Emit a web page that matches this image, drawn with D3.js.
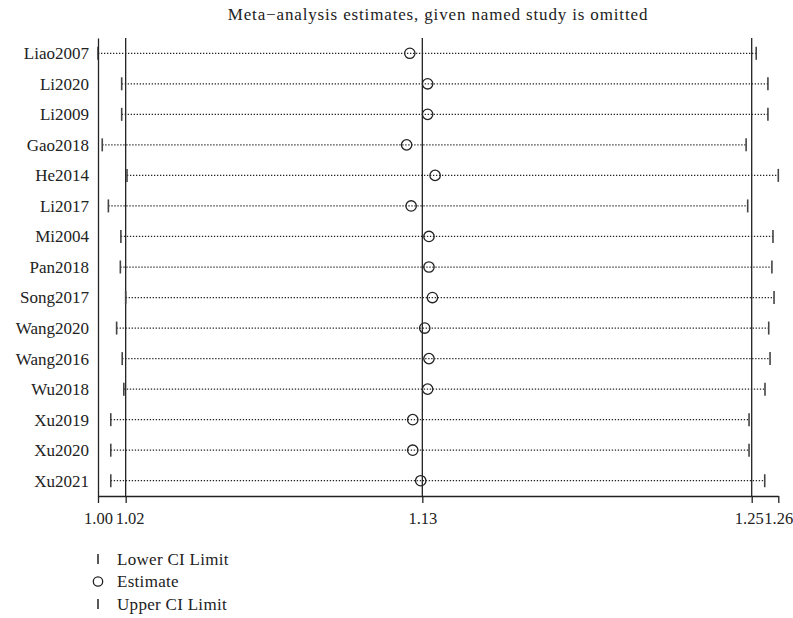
<!DOCTYPE html>
<html>
<head>
<meta charset="utf-8">
<script src="https://cdn.jsdelivr.net/npm/d3@7/dist/d3.min.js"></script>
<style>
  html, body { margin: 0; padding: 0; background: #fff; }
  svg { display: block; font-family: "Liberation Serif", "Times New Roman", serif; }
  .axis text { font-family: "Liberation Serif", "Times New Roman", serif; }
</style>
</head>
<body>
<svg id="chart" width="793" height="618"></svg>
<script>
// Leave-one-out sensitivity analysis: pooled estimate with each study omitted
const studies = ["Liao2007", "Li2020", "Li2009", "Gao2018", "He2014", "Li2017", "Mi2004",
  "Pan2018", "Song2017", "Wang2020", "Wang2016", "Wu2018", "Xu2019", "Xu2020", "Xu2021"];
const lowerCI  = [1.0048, 1.0137, 1.0137, 1.0064, 1.0157, 1.0087, 1.0134,
  1.0132, 1.0152, 1.0118, 1.0139, 1.0145, 1.0096, 1.0096, 1.0096];
const estimate = [1.1220, 1.1287, 1.1287, 1.1208, 1.1315, 1.1225, 1.1292,
  1.1292, 1.1305, 1.1276, 1.1292, 1.1287, 1.1231, 1.1231, 1.1261];
const upperCI  = [1.2522, 1.2566, 1.2566, 1.2484, 1.2605, 1.2490, 1.2585,
  1.2581, 1.2589, 1.2569, 1.2574, 1.2555, 1.2495, 1.2495, 1.2554];

// Overall pooled estimate and its confidence interval
const overall = { lower: 1.0152, estimate: 1.1267, upper: 1.2505 };

const legendLabels = ["Lower CI Limit", "Estimate", "Upper CI Limit"];
const titleText = "Meta\u2212analysis estimates, given named study is omitted";

const rows = studies.map((s, i) => ({ study: s, lo: lowerCI[i], est: estimate[i], hi: upperCI[i] }));

const svg = d3.select("#chart");
const ink = "#222";
const tickInk = "#444";

const xMin = d3.min(lowerCI);
const xMax = d3.max(upperCI);
const x = d3.scaleLinear().domain([xMin, xMax]).range([98, 778.3]);
const y = d3.scalePoint().domain(studies).range([38, 496]).padding(0.5);

// Title
svg.append("text")
  .attr("x", 438).attr("y", 20)
  .attr("text-anchor", "middle")
  .attr("font-size", 17)
  .attr("letter-spacing", 0.85)
  .attr("fill", ink)
  .text(titleText);

// Reference lines at the overall lower limit, estimate and upper limit
svg.append("g").selectAll("line")
  .data([overall.lower, overall.estimate, overall.upper])
  .join("line")
  .attr("x1", d => x(d)).attr("x2", d => x(d))
  .attr("y1", 38).attr("y2", 496)
  .attr("stroke", ink).attr("stroke-width", 1.3);

// Dotted CI lines
svg.append("g").selectAll("line")
  .data(rows)
  .join("line")
  .attr("x1", d => x(d.lo)).attr("x2", d => x(d.hi))
  .attr("y1", d => y(d.study)).attr("y2", d => y(d.study))
  .attr("stroke", ink).attr("stroke-width", 1.25)
  .attr("stroke-dasharray", "1.3,1.7");

// CI limit bars
const bars = svg.append("g");
bars.selectAll("line.lo")
  .data(rows).join("line").attr("class", "lo")
  .attr("x1", d => x(d.lo)).attr("x2", d => x(d.lo))
  .attr("y1", d => y(d.study) - 6.5).attr("y2", d => y(d.study) + 6.5)
  .attr("stroke", tickInk).attr("stroke-width", 1.6);
bars.selectAll("line.hi")
  .data(rows).join("line").attr("class", "hi")
  .attr("x1", d => x(d.hi)).attr("x2", d => x(d.hi))
  .attr("y1", d => y(d.study) - 6.5).attr("y2", d => y(d.study) + 6.5)
  .attr("stroke", tickInk).attr("stroke-width", 1.6);

// Point estimates
svg.append("g").selectAll("circle")
  .data(rows)
  .join("circle")
  .attr("cx", d => x(d.est)).attr("cy", d => y(d.study))
  .attr("r", 5.2)
  .attr("fill", "none")
  .attr("stroke", ink).attr("stroke-width", 1.3);

// Left axis with study names
const yAxis = svg.append("g")
  .attr("class", "axis")
  .attr("transform", "translate(98,0)")
  .call(d3.axisLeft(y).tickSize(0).tickPadding(9));
yAxis.select(".domain").attr("stroke", ink).attr("stroke-width", 1.3);
yAxis.selectAll("text").attr("font-size", 17).attr("fill", ink);

// Bottom axis labelled at the extremes and the overall interval
const xTicks = [xMin, overall.lower, overall.estimate, overall.upper, xMax];
const xAxis = svg.append("g")
  .attr("class", "axis")
  .attr("transform", "translate(0,496)")
  .call(d3.axisBottom(x)
    .tickValues(xTicks)
    .tickFormat(d3.format(".2f"))
    .tickSize(7).tickSizeOuter(0).tickPadding(9));
xAxis.select(".domain").attr("stroke", ink).attr("stroke-width", 1.3);
xAxis.selectAll(".tick line").attr("stroke", ink).attr("stroke-width", 1.3);
// nudge the interval labels away from the neighbouring extreme labels
const labelShift = new Map([[overall.lower, 4], [overall.upper, -3]]);
xAxis.selectAll("text")
  .attr("font-size", 16.5).attr("fill", ink)
  .attr("dx", d => labelShift.get(d) || 0);

// Legend
const legend = svg.append("g").attr("transform", "translate(98,559)");
legendLabels.forEach((label, i) => {
  const g = legend.append("g").attr("transform", `translate(0,${i * 22.5})`);
  if (i === 1) {
    g.append("circle").attr("cx", 0).attr("cy", 0).attr("r", 4.7)
      .attr("fill", "none").attr("stroke", ink).attr("stroke-width", 1.3);
  } else {
    g.append("line").attr("x1", 0).attr("x2", 0).attr("y1", -5).attr("y2", 5)
      .attr("stroke", ink).attr("stroke-width", 1.5);
  }
  g.append("text").attr("x", 19).attr("y", 0).attr("dy", "0.35em")
    .attr("font-size", 17).attr("letter-spacing", 0.3).attr("fill", ink).text(label);
});
</script>
</body>
</html>
